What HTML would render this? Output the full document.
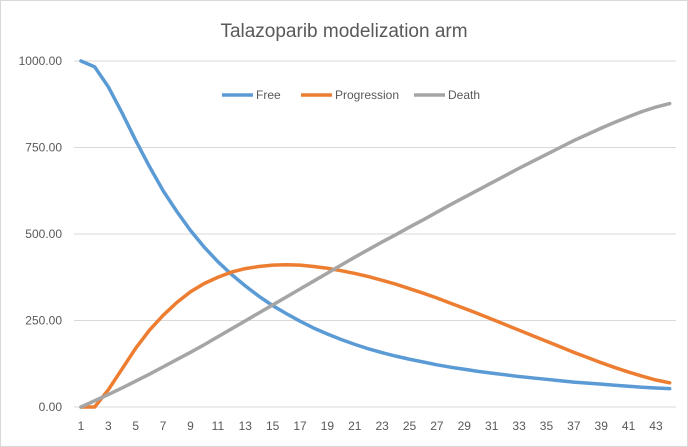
<!DOCTYPE html>
<html><head><meta charset="utf-8"><style>
body{margin:0;background:#fff;}
svg{display:block;font-family:"Liberation Sans",sans-serif;}
</style></head><body>
<svg id="chart" width="688" height="447">
<rect x="0.5" y="0.5" width="687" height="446" fill="#fff" stroke="#d9d9d9"/>
<text x="344" y="37" text-anchor="middle" font-size="19" fill="#595959">Talazoparib modelization arm</text>
<g id="grid"></g><g id="series"></g><g id="labels"></g>
<g font-size="12" fill="#595959">
<g><line x1="222" y1="95" x2="253" y2="95" stroke="#5b9bd5" stroke-width="3.5"/><text x="256" y="99">Free</text></g>
<g><line x1="301" y1="95" x2="332" y2="95" stroke="#ed7d31" stroke-width="3.5"/><text x="335" y="99">Progression</text></g>
<g><line x1="414" y1="95" x2="445" y2="95" stroke="#a5a5a5" stroke-width="3.5"/><text x="448" y="99">Death</text></g>
</g>
</svg>
<script>
const categories=[];for(let i=1;i<=44;i++)categories.push(i);
const freeValues=[1000,983,925,850,770,695,625,565,510,462,420,383,350,320,293,270,248,228,211,195,181,168,157,147,138,130,122,115,109,103,98,93,88,84,80,76,72,69,66,63,60,57,55,53];
const progressionValues=[0,0,50,110,170,222,265,302,333,357,375,390,400,406,410,411,410,406,401,394,386,377,366,355,342,329,315,300,285,270,254,238,222,206,190,174,158,143,128,114,101,89,78,70];
const deathValues=[0,18,36,55,75,95,116,137,158,180,203,226,249,272,295,318,341,364,387,410,433,455,477,498,520,541,563,585,606,627,648,669,690,710,730,750,770,788,806,823,839,854,867,877];
const yTicks=[0,250,500,750,1000];
const yTickLabels=["0.00","250.00","500.00","750.00","1000.00"];
const NS="http://www.w3.org/2000/svg";
const x0=81,dx=13.69,yBase=407,yScale=0.346;
function xs(i){return x0+i*dx;}
function ys(v){return yBase-v*yScale;}
const grid=document.getElementById('grid'),labels=document.getElementById('labels'),series=document.getElementById('series');
yTicks.forEach((t,i)=>{
 const l=document.createElementNS(NS,'line');
 l.setAttribute('x1',74);l.setAttribute('x2',676);l.setAttribute('y1',ys(t));l.setAttribute('y2',ys(t));
 l.setAttribute('stroke','#d9d9d9');l.setAttribute('stroke-width','1');
 
 
 grid.appendChild(l);
 const tx=document.createElementNS(NS,'text');
 tx.setAttribute('x',62);tx.setAttribute('y',ys(t)+4);tx.setAttribute('text-anchor','end');
 tx.setAttribute('font-size','12');tx.setAttribute('fill','#595959');tx.textContent=yTickLabels[i];
 
 
 labels.appendChild(tx);
});
categories.forEach((c,i)=>{
 if(c%2===0)return;
 const tx=document.createElementNS(NS,'text');
 tx.setAttribute('x',xs(i));tx.setAttribute('y',430);tx.setAttribute('text-anchor','middle');
 tx.setAttribute('font-size','12');tx.setAttribute('fill','#595959');tx.textContent=c;
 
 
 labels.appendChild(tx);
});
[[freeValues,'#5b9bd5','line-free'],[progressionValues,'#ed7d31','line-progression'],[deathValues,'#a5a5a5','line-death']].forEach(([vals,col,name])=>{
 const p=document.createElementNS(NS,'polyline');
 p.setAttribute('points',vals.map((v,i)=>xs(i)+','+ys(v)).join(' '));
 p.setAttribute('fill','none');p.setAttribute('stroke',col);p.setAttribute('stroke-width','3.5');p.setAttribute('stroke-linejoin','round');p.setAttribute('stroke-linecap','round');
 
 
 series.appendChild(p);
});
</script>
</body></html>
